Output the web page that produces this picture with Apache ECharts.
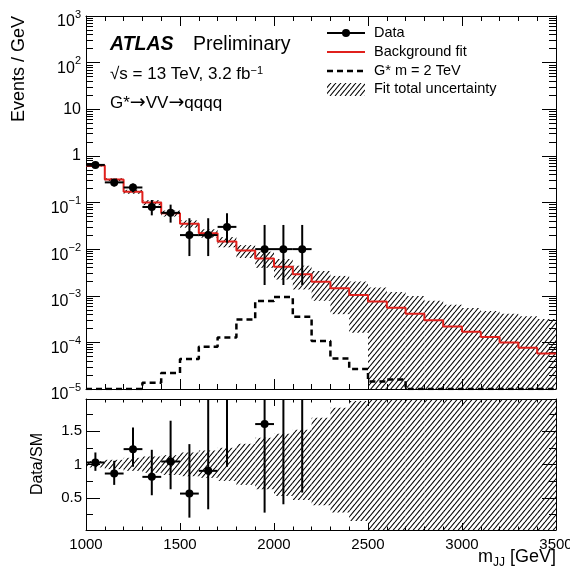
<!DOCTYPE html>
<html>
<head>
<meta charset="utf-8">
<script src="https://cdn.jsdelivr.net/npm/echarts@6/dist/echarts.min.js"></script>
<style>
  html, body { margin: 0; padding: 0; background: #fff; }
  #chart { width: 570px; height: 571px; }
</style>
</head>
<body>
<div id="chart"></div>
<script>
// bins of 100 GeV, lower edges
const binLow = [1000, 1100, 1200, 1300, 1400, 1500, 1600, 1700, 1800, 1900, 2000, 2100, 2200,
  2300, 2400, 2500, 2600, 2700, 2800, 2900, 3000, 3100, 3200, 3300, 3400]
const binEnd = 3500

// background fit, events / GeV
const fitValues = [0.62, 0.31, 0.17, 0.10, 0.059, 0.035, 0.022, 0.0145, 0.0093, 0.0063, 0.0042, 0.0029, 0.0020,
  0.00144, 0.00104, 0.00075, 0.00055, 0.00041, 0.00030, 0.00022, 0.00017, 0.00013, 0.00010, 0.000077, 0.000058]
// fit total uncertainty, relative to the fit (upper / lower edge)
const uncUp = [1.05, 1.07, 1.10, 1.12, 1.14, 1.18, 1.21, 1.25, 1.31, 1.40, 1.46, 1.52, 1.70,
  1.85, 1.95, 2.0, 2.2, 2.4, 2.6, 2.9, 3.2, 3.6, 4.1, 4.7, 5.5]
const uncDown = [0.955, 0.93, 0.905, 0.875, 0.845, 0.825, 0.80, 0.755, 0.695, 0.63, 0.53, 0.47, 0.39,
  0.28, 0.155, 0, 0, 0, 0, 0, 0, 0, 0, 0, 0]
// G* m = 2 TeV signal
const sigValues = [1e-5, 1e-5, 1e-5, 1.37e-5, 2.2e-5, 4.4e-5, 8.1e-5, 1.28e-4, 3.1e-4, 7.7e-4, 9.4e-4, 3.55e-4, 1.07e-4,
  4.5e-5, 2.7e-5, 1.44e-5, 1.6e-5, 1e-5, 1e-5, 1e-5, 1e-5, 1e-5, 1e-5, 1e-5, 1e-5]

// data points
const dataMass = [1050, 1150, 1250, 1350, 1450, 1550, 1650, 1750, 1950, 2050, 2150]
const dataValues = [0.64, 0.27, 0.21, 0.08, 0.06, 0.02, 0.02, 0.03, 0.01, 0.01, 0.01]
const dataLow = [0.56, 0.22, 0.166, 0.053, 0.037, 0.0071, 0.0071, 0.0137, 0.0017, 0.0017, 0.0017]
const dataHigh = [0.72, 0.32, 0.256, 0.113, 0.09, 0.046, 0.046, 0.059, 0.033, 0.033, 0.033]

// ratio panel Data/SM
const ratioValues = [1.03, 0.865, 1.23, 0.815, 1.045, 0.565, 0.905, 2.07, 1.605, 2.38, 3.4]
const ratioLow = [0.905, 0.695, 0.965, 0.54, 0.63, 0.205, 0.33, 0.965, 0.28, 0.405, 0.58]
const ratioHigh = [1.18, 1.055, 1.555, 1.22, 1.655, 1.305, 2.14, 4.1, 5.3, 7.9, 11.4]

const xTicks = [1000, 1500, 2000, 2500, 3000, 3500]
const ratioMajor = [0.5, 1, 1.5]
const ratioMinor = [0.25, 0.75, 1.25, 1.75]

const font = 'Liberation Sans, Arial, Helvetica, sans-serif'
const log = v => (v > 0 ? Math.log10(v) : -7)

const majorLog = []
const minorLog = []
for (let n = -5; n <= 3; n++) {
  majorLog.push(n)
  if (n < 3) {
    for (let k = 2; k <= 9; k++) minorLog.push(n + Math.log10(k))
  }
}

function makeHatch() {
  const c = document.createElement('canvas')
  c.width = 5
  c.height = 6
  const ctx = c.getContext('2d')
  ctx.strokeStyle = '#000'
  ctx.lineWidth = 1.1
  for (const dx of [-5, 0, 5]) {
    ctx.beginPath()
    ctx.moveTo(dx, 6)
    ctx.lineTo(dx + 5, 0)
    ctx.stroke()
  }
  return c
}
const hatch = { image: makeHatch(), repeat: 'repeat' }

// step lines
const stepData = (vals) => {
  const out = binLow.map((x, i) => [x, log(vals[i])])
  out.push([binEnd, log(vals[vals.length - 1])])
  return out
}
const binHigh = i => (i + 1 < binLow.length ? binLow[i + 1] : binEnd)
const mainBand = binLow.map((x, i) => [x, binHigh(i), log(fitValues[i] * uncDown[i]), log(fitValues[i] * uncUp[i])])
const ratioBand = binLow.map((x, i) => [x, binHigh(i), uncDown[i], uncUp[i]])
const mainPoints = dataMass.map((m, i) => [m, log(dataValues[i]), log(dataLow[i]), log(dataHigh[i])])
const ratioPoints = dataMass.map((m, i) => [m, ratioValues[i], ratioLow[i], ratioHigh[i]])

function bandItem(params, api) {
  const p0 = api.coord([api.value(0), api.value(3)])
  const p1 = api.coord([api.value(1), api.value(2)])
  const cs = params.coordSys
  const shape = echarts.graphic.clipRectByRect(
    { x: p0[0], y: p0[1], width: p1[0] - p0[0], height: p1[1] - p0[1] },
    { x: cs.x, y: cs.y, width: cs.width, height: cs.height })
  if (!shape) return
  return { type: 'rect', shape, style: { fill: hatch } }
}

function pointItem(params, api) {
  const cs = params.coordSys
  const m = api.value(0)
  const v = api.value(1)
  const c = api.coord([m, v])
  const l = api.coord([m - 50, v])
  const r = api.coord([m + 50, v])
  const top = Math.max(api.coord([m, api.value(3)])[1], cs.y)
  const bot = Math.min(api.coord([m, api.value(2)])[1], cs.y + cs.height)
  const children = [
    { type: 'line', shape: { x1: c[0], y1: top, x2: c[0], y2: bot }, style: { stroke: '#000', lineWidth: 2 } }
  ]
  if (c[1] >= cs.y && c[1] <= cs.y + cs.height) {
    children.push({ type: 'line', shape: { x1: l[0], y1: c[1], x2: r[0], y2: c[1] }, style: { stroke: '#000', lineWidth: 2 } })
    children.push({ type: 'circle', shape: { cx: c[0], cy: c[1], r: 4 }, style: { fill: '#000' } })
  }
  return { type: 'group', children }
}

const black = { color: '#000', width: 1 }

function xAxis(gridIndex, position, major, minor, labels) {
  return {
    type: 'value', gridIndex, position, min: 1000, max: 3500, interval: 500,
    axisLine: { show: true, onZero: false, lineStyle: black },
    axisTick: { show: true, inside: true, length: major, lineStyle: black },
    minorTick: { show: true, splitNumber: 5, length: minor, lineStyle: black },
    splitLine: { show: false },
    axisLabel: labels ? {
      show: true, customValues: xTicks, margin: 7, color: '#000', fontSize: 15, fontFamily: font,
      formatter: v => String(v)
    } : { show: false }
  }
}

function yAxis(gridIndex, position, min, max, ticks, len, label, line) {
  return {
    type: 'value', gridIndex, position, min, max,
    axisLine: { show: line, onZero: false, lineStyle: black },
    axisTick: { show: true, inside: true, length: len, customValues: ticks, lineStyle: black },
    splitLine: { show: false },
    axisLabel: label || { show: false }
  }
}

const supRich = {
  b: { fontSize: 16, lineHeight: 21, verticalAlign: 'bottom', fontFamily: font, color: '#000' },
  s: { fontSize: 11, lineHeight: 11, verticalAlign: 'top', fontFamily: font, color: '#000' }
}

const arrowStyle = { fontSize: 19, fontFamily: 'DejaVu Sans', fill: '#000' }

const option = {
  animation: false,
  backgroundColor: '#fff',
  textStyle: { fontFamily: font, color: '#000' },
  grid: [
    { left: 86, top: 16, width: 470, height: 373, outerBoundsMode: 'none' },
    { left: 86, top: 399, width: 470, height: 131, outerBoundsMode: 'none' }
  ],
  xAxis: [
    xAxis(0, 'bottom', 10, 5, false),
    xAxis(0, 'top', 10, 5, false),
    xAxis(1, 'bottom', 7, 3.5, true),
    xAxis(1, 'top', 7, 3.5, false)
  ],
  yAxis: [
    yAxis(0, 'left', -5, 3, majorLog, 14, {
      show: true, customValues: [0, 1], margin: 5, color: '#000', fontSize: 16, fontFamily: font,
      formatter: v => (v === 0 ? '1' : '10')
    }, true),
    yAxis(0, 'left', -5, 3, minorLog, 7, {
      show: true, customValues: [-5, -4, -3, -2, -1, 2, 3], margin: 5, padding: [7, 0, 0, 0],
      formatter: v => '{b|10}{s|' + (v < 0 ? '\u2212' + (-v) : v) + '}',
      rich: supRich
    }, false),
    yAxis(0, 'right', -5, 3, majorLog, 14, null, true),
    yAxis(0, 'right', -5, 3, minorLog, 7, null, false),
    yAxis(1, 'left', 0.02, 1.98, ratioMajor, 14, {
      show: true, customValues: ratioMajor, margin: 4, color: '#000', fontSize: 15, fontFamily: font,
      formatter: v => String(v)
    }, true),
    yAxis(1, 'left', 0.02, 1.98, ratioMinor, 7, null, false),
    yAxis(1, 'right', 0.02, 1.98, ratioMajor, 14, null, true),
    yAxis(1, 'right', 0.02, 1.98, ratioMinor, 7, null, false)
  ],
  series: [
    {
      name: 'Fit total uncertainty', type: 'custom', xAxisIndex: 0, yAxisIndex: 0,
      renderItem: bandItem, data: mainBand, z: 1, silent: true
    },
    {
      name: 'Background fit', type: 'line', xAxisIndex: 0, yAxisIndex: 0, step: 'end',
      data: stepData(fitValues), symbol: 'none', lineStyle: { color: '#e0201c', width: 2 }, z: 3
    },
    {
      name: 'G* m = 2 TeV', type: 'line', xAxisIndex: 0, yAxisIndex: 0, step: 'end',
      data: stepData(sigValues), symbol: 'none', lineStyle: { color: '#000', width: 2.5, type: [6, 4] }, z: 3
    },
    {
      name: 'Data', type: 'custom', xAxisIndex: 0, yAxisIndex: 0,
      renderItem: pointItem, data: mainPoints, z: 5
    },
    {
      name: 'Ratio uncertainty', type: 'custom', xAxisIndex: 2, yAxisIndex: 4,
      renderItem: bandItem, data: ratioBand, z: 1, silent: true
    },
    {
      name: 'Ratio', type: 'custom', xAxisIndex: 2, yAxisIndex: 4,
      renderItem: pointItem, data: ratioPoints, z: 5
    }
  ],
  graphic: [
    { type: 'text', x: 110, y: 45, z: 100, style: { text: 'ATLAS', fontSize: 19.5, fontWeight: 'bold', fontStyle: 'italic', fontFamily: font, fill: '#000', verticalAlign: 'middle' } },
    { type: 'text', x: 193, y: 45, z: 100, style: { text: 'Preliminary', fontSize: 19.5, fontFamily: font, fill: '#000', verticalAlign: 'middle' } },
    {
      type: 'text', x: 110, y: 74, z: 100,
      style: {
        text: '\u221As = 13 TeV, 3.2 fb{s|\u22121}', fontSize: 17, lineHeight: 17, fontFamily: font, fill: '#000', verticalAlign: 'middle',
        rich: { s: { fontSize: 11, lineHeight: 12, verticalAlign: 'top', fontFamily: font, fill: '#000' } }
      }
    },
    {
      type: 'text', x: 110, y: 103, z: 100,
      style: {
        text: 'G*{a|\u2192}VV{a|\u2192}qqqq', fontSize: 17, fontFamily: font, fill: '#000', verticalAlign: 'middle',
        rich: { a: arrowStyle }
      }
    },

    { type: 'line', z: 100, shape: { x1: 327, y1: 33, x2: 365, y2: 33 }, style: { stroke: '#000', lineWidth: 2 } },
    { type: 'circle', z: 100, shape: { cx: 346, cy: 33, r: 4 }, style: { fill: '#000' } },
    { type: 'line', z: 100, shape: { x1: 327, y1: 52, x2: 365, y2: 52 }, style: { stroke: '#e0201c', lineWidth: 2 } },
    { type: 'line', z: 100, shape: { x1: 327, y1: 71, x2: 365, y2: 71 }, style: { stroke: '#000', lineWidth: 2.5, lineDash: [6, 4] } },
    { type: 'rect', z: 100, shape: { x: 327, y: 83, width: 38, height: 13 }, style: { fill: hatch } },
    { type: 'text', x: 374, y: 33, z: 100, style: { text: 'Data', fontSize: 14.5, fontFamily: font, fill: '#000', verticalAlign: 'middle' } },
    { type: 'text', x: 374, y: 52, z: 100, style: { text: 'Background fit', fontSize: 14.5, fontFamily: font, fill: '#000', verticalAlign: 'middle' } },
    { type: 'text', x: 374, y: 71, z: 100, style: { text: 'G* m = 2 TeV', fontSize: 14.5, fontFamily: font, fill: '#000', verticalAlign: 'middle' } },
    { type: 'text', x: 374, y: 89, z: 100, style: { text: 'Fit total uncertainty', fontSize: 14.5, fontFamily: font, fill: '#000', verticalAlign: 'middle' } },

    { type: 'text', x: 19, y: 16, rotation: Math.PI / 2, z: 100, style: { text: 'Events / GeV', fontSize: 18, fontFamily: font, fill: '#000', align: 'right', verticalAlign: 'middle' } },
    { type: 'text', x: 38, y: 464, rotation: Math.PI / 2, z: 100, style: { text: 'Data/SM', fontSize: 16, fontFamily: font, fill: '#000', align: 'center', verticalAlign: 'middle' } },
    {
      type: 'text', x: 556, y: 557, z: 100,
      style: {
        text: '{m|m}{j|JJ}{m| [GeV]}', align: 'right', verticalAlign: 'middle', fill: '#000',
        rich: {
          m: { fontSize: 18, lineHeight: 24, fontFamily: font, fill: '#000' },
          j: { fontSize: 12, lineHeight: 10, verticalAlign: 'bottom', fontFamily: font, fill: '#000' }
        }
      }
    }
  ]
}

const chart = echarts.init(document.getElementById('chart'))
chart.setOption(option)
</script>
</body>
</html>
